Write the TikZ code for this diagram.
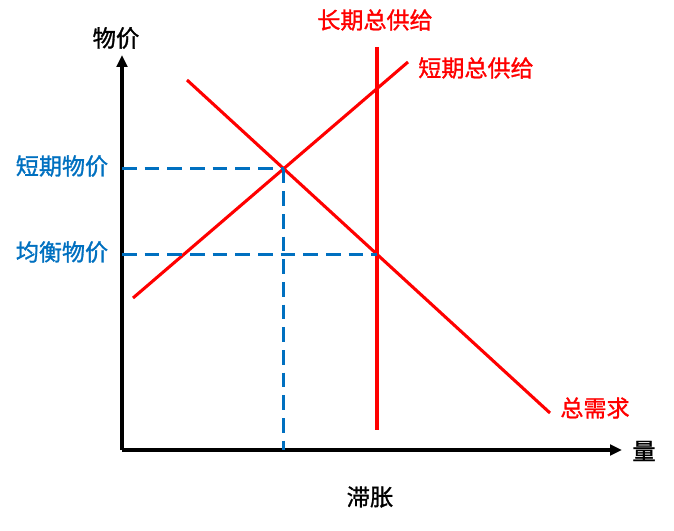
\documentclass[tikz,border=0pt]{standalone}
\usepackage{fontspec}
\newfontfamily\cjk[FakeBold=1.2]{Noto Sans CJK SC}
\usetikzlibrary{intersections,arrows.meta}
\definecolor{curvered}{RGB}{255,0,0}
\definecolor{levelblue}{RGB}{0,112,192}
\tikzset{
  axisline/.style={line width=2.5pt,-{Triangle[length=9pt,width=8pt]}},
  curve/.style={color=curvered,line width=2.3pt},
  guide/.style={color=levelblue,line width=2.2pt,dash pattern=on 11pt off 6pt},
  redlabel/.style={text=curvered,font=\cjk\fontsize{17.3}{19}\selectfont,inner sep=0.75pt},
  bluelabel/.style={text=levelblue,font=\cjk\fontsize{17.3}{19}\selectfont,inner sep=0.75pt},
  blacklabel/.style={text=black,font=\cjk\fontsize{17.5}{19}\selectfont,inner sep=0.75pt}
}
\begin{document}
\begin{tikzpicture}[x=0.75pt,y=0.75pt,yscale=-1,xscale=1]
\useasboundingbox (0,0) rectangle (674,531);

% Axes
\coordinate (origin) at (122,450);
\coordinate (ytop) at (122,55);
\coordinate (xend) at (622,450);
\draw [axisline] (origin) -- (ytop);
\draw [axisline] (origin) -- (xend);

%Straight Lines: long-run supply
\coordinate (lrasTop) at (377,47);
\coordinate (lrasBot) at (377,430);
\draw [curve,name path=lras] (lrasTop) -- (lrasBot);
%Straight Lines: short-run supply
\coordinate (srasLow) at (133,298);
\coordinate (srasHigh) at (408,62);
\draw [curve,name path=sras] (srasLow) -- (srasHigh);
%Straight Lines: demand
\coordinate (adHigh) at (187,80);
\coordinate (adLow) at (550,413);
\draw [curve,name path=ad] (adHigh) -- (adLow);

% crossings
\path [name intersections={of=sras and ad,by=shortEq}];
\path [name intersections={of=lras and ad,by=longEq}];

%Dashed guides
\draw [guide] (origin |- shortEq) -- (shortEq);
\draw [guide] (shortEq) -- (shortEq |- origin);
\draw [guide] (origin |- longEq) -- (longEq);

% Text Node
\node [blacklabel] (priceAxis) at (116,38) {物价};
\node [blacklabel] (qtyAxis) at (644,451) {量};
\node [redlabel] (lrasLabel) at (375,20) {长期总供给};
\node [redlabel] (srasLabel) at (476,68) {短期总供给};
\node [redlabel] (adLabel) at (595,408) {总需求};
\node [bluelabel] (shortPrice) at (62,166) {短期物价};
\node [bluelabel] (eqPrice) at (62,252) {均衡物价};
\node [blacklabel] (caption) at (370,497) {滞胀};
\end{tikzpicture}
\end{document}
